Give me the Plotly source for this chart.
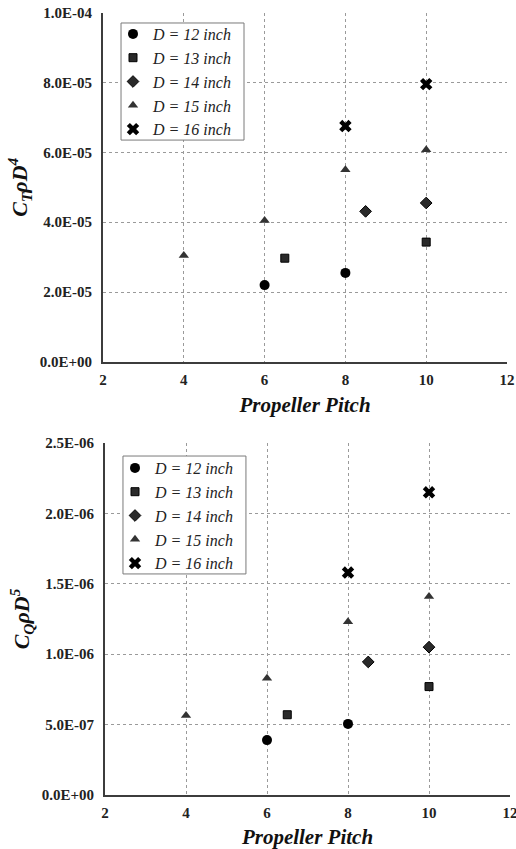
import plotly.graph_objects as go

# Propeller pitch (inch) for each diameter series
pitch_12 = [6, 8]
pitch_13 = [6.5, 10]
pitch_14 = [8.5, 10]
pitch_15 = [4, 6, 8, 10]
pitch_16 = [8, 10]

# Thrust coefficient term C_T * rho * D^4
thrust_12 = [2.20e-05, 2.55e-05]
thrust_13 = [2.97e-05, 3.43e-05]
thrust_14 = [4.31e-05, 4.55e-05]
thrust_15 = [3.05e-05, 4.05e-05, 5.50e-05, 6.07e-05]
thrust_16 = [6.75e-05, 7.95e-05]

# Torque coefficient term C_Q * rho * D^5
torque_12 = [3.90e-07, 5.05e-07]
torque_13 = [5.70e-07, 7.70e-07]
torque_14 = [9.45e-07, 1.05e-06]
torque_15 = [5.65e-07, 8.30e-07, 1.23e-06, 1.41e-06]
torque_16 = [1.58e-06, 2.15e-06]

series_names = ["D = 12 inch", "D = 13 inch", "D = 14 inch", "D = 15 inch", "D = 16 inch"]

x_ticks = [2, 4, 6, 8, 10, 12]
thrust_ticks = [0, 2e-05, 4e-05, 6e-05, 8e-05, 1e-04]
thrust_labels = ["0.0E+00", "2.0E-05", "4.0E-05", "6.0E-05", "8.0E-05", "1.0E-04"]
torque_ticks = [0, 5e-07, 1e-06, 1.5e-06, 2e-06, 2.5e-06]
torque_labels = ["0.0E+00", "5.0E-07", "1.0E-06", "1.5E-06", "2.0E-06", "2.5E-06"]

FONT = "Liberation Serif"

styles = [
    dict(symbol="circle", size=10, color="#000000", line=dict(width=0)),
    dict(symbol="square", size=8, color="#2a2a2a", line=dict(width=1, color="#000000")),
    dict(symbol="diamond", size=9, color="#2a2a2a", line=dict(width=1, color="#000000")),
    dict(symbol="triangle-up", size=9, color="#333333", line=dict(width=0)),
    dict(symbol="x", size=11, color="#000000", line=dict(width=0)),
]

pitches = [pitch_12, pitch_13, pitch_14, pitch_15, pitch_16]
thrusts = [thrust_12, thrust_13, thrust_14, thrust_15, thrust_16]
torques = [torque_12, torque_13, torque_14, torque_15, torque_16]

fig = go.Figure()

for name, px, py, st in zip(series_names, pitches, thrusts, styles):
    fig.add_trace(go.Scatter(
        x=px, y=py, mode="markers", name="<i>" + name + "</i>", marker=st,
        xaxis="x", yaxis="y", legend="legend", showlegend=True,
    ))

for name, px, py, st in zip(series_names, pitches, torques, styles):
    fig.add_trace(go.Scatter(
        x=px, y=py, mode="markers", name="<i>" + name + "</i>", marker=st,
        xaxis="x2", yaxis="y2", legend="legend2", showlegend=True,
    ))

W, H = 516, 849

grid = dict(showgrid=True, gridcolor="#9a9a9a", griddash="dot", gridwidth=1)
axis_line = dict(showline=True, linecolor="#3c3c3c", linewidth=2, ticks="",
                 zeroline=False, automargin=False)
tick_font = dict(family=FONT, size=15, color="#222222")
title_font = dict(family=FONT, size=21, color="#111111")
ytitle_font = dict(family=FONT, size=22, color="#111111")
legend_font = dict(family=FONT, size=16, color="#222222")

x_common = dict(
    range=[2, 12], tickvals=x_ticks, ticktext=[f"<b>{v}</b>" for v in x_ticks],
    tickfont=tick_font, ticklabelstandoff=3, ticklabeloverflow="allow",
    **grid, **axis_line,
)

legend_common = dict(
    xanchor="left", yanchor="top",
    bgcolor="rgba(0,0,0,0)", borderwidth=0,
    font=legend_font, tracegroupgap=0,
)

fig.update_layout(
    width=W, height=H,
    margin=dict(l=0, r=0, t=0, b=0),
    paper_bgcolor="white", plot_bgcolor="white",
    font=dict(family=FONT, color="#222222"),
    xaxis=dict(
        domain=[103 / W, 507 / W], anchor="y",
        title=dict(text="<b><i>Propeller Pitch</i></b>", font=title_font, standoff=10),
        **x_common,
    ),
    yaxis=dict(
        domain=[(H - 362) / H, (H - 12.5) / H], anchor="x",
        range=[0, 1e-04], tickvals=thrust_ticks,
        ticktext=[f"<b>{t}</b>" for t in thrust_labels],
        tickfont=tick_font, ticklabelstandoff=6,
        title=dict(text="<b><i>C<sub>T</sub>ρD<sup>4</sup></i></b>", font=ytitle_font, standoff=6),
        **grid, **axis_line,
    ),
    xaxis2=dict(
        domain=[105 / W, 510 / W], anchor="y2",
        title=dict(text="<b><i>Propeller Pitch</i></b>", font=title_font, standoff=12),
        **x_common,
    ),
    yaxis2=dict(
        domain=[(H - 795) / H, (H - 443) / H], anchor="x2",
        range=[0, 2.5e-06], tickvals=torque_ticks,
        ticktext=[f"<b>{t}</b>" for t in torque_labels],
        tickfont=tick_font, ticklabelstandoff=6,
        title=dict(text="<b><i>C<sub>Q</sub>ρD<sup>5</sup></i></b>", font=ytitle_font, standoff=6),
        **grid, **axis_line,
    ),
    legend=dict(x=113 / W, y=(H - 17) / H, **legend_common),
    legend2=dict(x=115 / W, y=(H - 451) / H, **legend_common),
)

# White legend frames drawn over the grid but beneath the markers
frame = dict(type="rect", layer="between", fillcolor="white",
             line=dict(color="#7a7a7a", width=1))
fig.add_shape(xref="x", yref="y", x0=2.446, x1=5.49, y0=0.635e-04, y1=0.970e-04, **frame)
fig.add_shape(xref="x2", yref="y2", x0=2.444, x1=5.48, y0=1.57e-06, y1=2.4075e-06, **frame)

fig.write_html("out.html")
